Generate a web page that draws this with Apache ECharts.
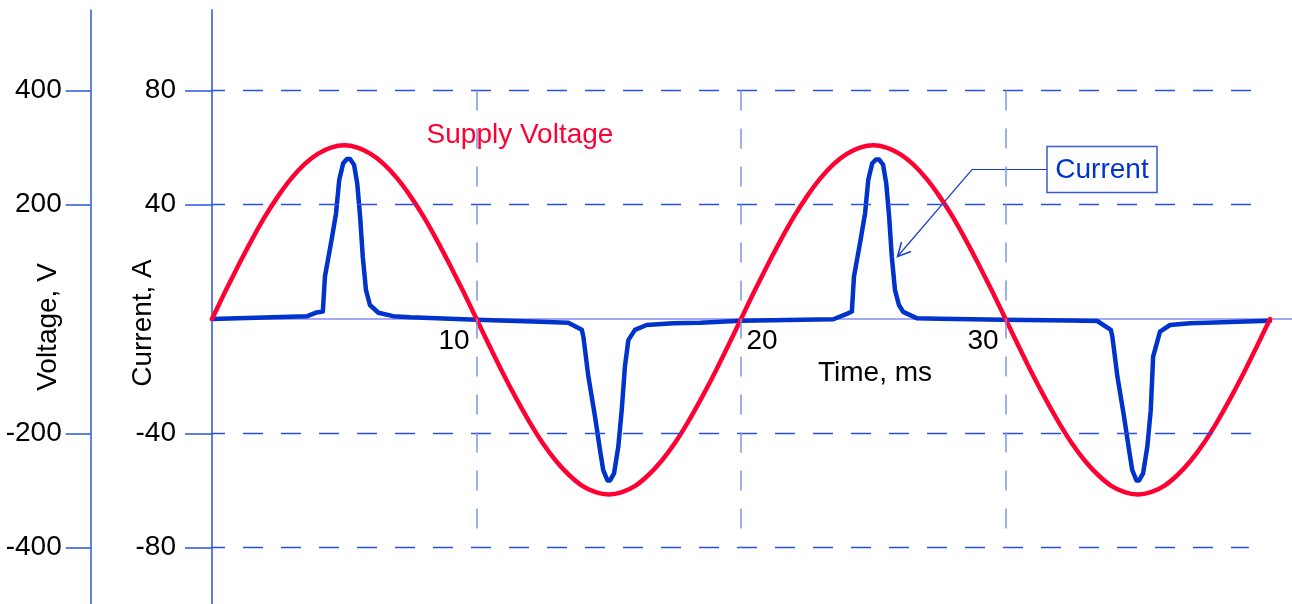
<!DOCTYPE html>
<html><head><meta charset="utf-8">
<script src="https://cdn.jsdelivr.net/npm/echarts@6/dist/echarts.min.js"></script>
<style>html,body{margin:0;padding:0;background:#fff}#c{width:1292px;height:604px}</style>
</head><body><div id="c"></div>
<script>
// ---- data ----
const voltageTimeMs = [
  0,0.5,1,1.5,2,2.5,3,3.5,4,4.5,5,5.5,6,6.5,7,7.5,8,8.5,9,9.5,
  10,10.5,11,11.5,12,12.5,13,13.5,14,14.5,15,15.5,16,16.5,17,17.5,18,18.5,19,19.5,
  20,20.5,21,21.5,22,22.5,23,23.5,24,24.5,25,25.5,26,26.5,27,27.5,28,28.5,29,29.5,
  30,30.5,31,31.5,32,32.5,33,33.5,34,34.5,35,35.5,36,36.5,37,37.5,38,38.5,39,39.5,40
];
const voltageV = [
  0,48,94,138,179,215,246,271,289,300,304,300,289,271,246,215,179,138,94,48,
  0,-48,-95,-139,-180,-217,-248,-273,-292,-303,-307,-303,-292,-273,-248,-217,-180,-139,-95,-48,
  0,48,94,138,179,215,246,271,289,300,304,300,289,271,246,215,179,138,94,48,
  0,-48,-95,-139,-180,-217,-248,-273,-292,-303,-307,-303,-292,-273,-248,-217,-180,-139,-95,-48,0
];
const currentTimeMs = [
  0,3.6,3.96,4.19,4.27,4.52,4.69,4.81,4.96,5.1,5.22,5.37,5.49,5.6,5.7,5.82,5.97,6.29,6.85,7.5,
  10,12.4,13.47,13.98,14.04,14.23,14.48,14.67,14.79,14.95,15.05,15.2,15.36,15.49,15.61,15.74,15.99,16.43,17.44,18.45,
  20,23.49,24.0,24.19,24.27,24.52,24.69,24.81,24.96,25.1,25.22,25.37,25.49,25.6,25.7,25.82,25.97,26.13,26.64,27.5,
  29.94,32.4,33.47,33.98,34.04,34.23,34.48,34.67,34.79,34.95,35.05,35.2,35.36,35.49,35.58,35.84,36.22,36.98,40
];
const currentA = [
  0,1.0,2.3,2.6,14.8,27.7,37,48.7,54.5,56,56,54,47.5,35.8,21.8,10.2,4.9,2.2,1.0,0.6,
  -0.3,-1.0,-1.3,-3.8,-6.2,-20.2,-34.2,-45.9,-52.9,-56.5,-56.5,-54,-44.7,-31.9,-16.7,-7.4,-3.8,-2.1,-1.5,-1.3,
  -0.6,-0.1,1.8,2.6,14.8,27.7,37,48.7,54.5,55.8,55.8,54,47.5,35.8,21.8,10.2,4.9,2.5,0.3,0.1,
  -0.3,-0.5,-0.7,-3.8,-6.2,-20.2,-34.2,-45.9,-52.9,-56.5,-56.5,-54,-44.7,-31.9,-13.2,-4.4,-2.1,-1.5,-0.6
];
const currentTicks = [-80, -40, 40, 80];
const voltageTicks = [-400, -200, 200, 400];
const timeTicks = [10, 20, 30];
const timeGridLines = [10, 20, 30];
const currentGridLines = [80, 40, -40, -80];
const currentGridEndMs = [39.9, 39.9, 39.9, 39.2];

const FONT = '"Liberation Sans", Arial, sans-serif';
const chart = echarts.init(document.getElementById('c'), null, {renderer: 'canvas'});

const hLines = currentGridLines.map((v, i) => [{coord: [0, v]}, {coord: [currentGridEndMs[i], v]}]);
const vLines = timeGridLines.map(t => [{coord: [t, 80]}, {coord: [t, -80]}]);

chart.setOption({
  animation: false,
  backgroundColor: '#ffffff',
  grid: {left: 212, right: 0, top: 10, bottom: 0, containLabel: false, outerBoundsMode: 'none'},
  xAxis: {
    type: 'value', min: 0, max: 40.83, position: 'bottom', offset: -285,
    axisLine: {onZero: false, lineStyle: {color: '#8a8cf0', width: 1.5}},
    axisTick: {show: false},
    splitLine: {show: false},
    axisLabel: {
      customValues: timeTicks, margin: 8, color: '#000', fontFamily: FONT, fontSize: 28,
      formatter: v => (v === 20 ? '{r|' + v + '}' : '{l|' + v + '}'),
      rich: {
        l: {fontSize: 28, fontFamily: FONT, color: '#000', lineHeight: 28, padding: [0, 45, 0, 0]},
        r: {fontSize: 28, fontFamily: FONT, color: '#000', lineHeight: 28, padding: [0, 0, 0, 42]}
      }
    }
  },
  yAxis: [
    {
      type: 'value', min: -99.75, max: 108.15, position: 'left', offset: 0,
      axisLine: {show: true, onZero: false, lineStyle: {color: '#5a7ee6', width: 2}},
      axisTick: {show: true, customValues: currentTicks, length: 27, lineStyle: {color: '#2a55e0', width: 1.5}},
      axisLabel: {customValues: currentTicks, margin: 36, color: '#000', fontFamily: FONT, fontSize: 28},
      splitLine: {show: false}
    },
    {
      type: 'value', min: -498.75, max: 540.75, position: 'left', offset: 121.3,
      axisLine: {show: true, onZero: false, lineStyle: {color: '#2a5ae6', width: 1.5}},
      axisTick: {show: true, customValues: voltageTicks, length: 25, lineStyle: {color: '#2a55e0', width: 1.5}},
      axisLabel: {customValues: voltageTicks, margin: 29, color: '#000', fontFamily: FONT, fontSize: 28},
      splitLine: {show: false}
    }
  ],
  series: [
    {
      name: 'Current', type: 'line', yAxisIndex: 0, showSymbol: false, symbol: 'none',
      data: currentTimeMs.map((t, i) => [t, currentA[i]]),
      lineStyle: {color: '#0033cc', width: 4.5, join: 'round', cap: 'round'},
      z: 3,
      markLine: {
        silent: true, symbol: 'none', label: {show: false}, animation: false,
        data: [
          ...hLines.map(d => [Object.assign({}, d[0], {lineStyle: {color: '#2a52de', width: 1.3, type: [20, 18], dashOffset: 7}}), d[1]]),
          ...vLines.map(d => [Object.assign({}, d[0], {lineStyle: {color: '#7b95e8', width: 1.5, type: [20, 18]}}), d[1]])
        ]
      }
    },
    {
      name: 'Supply Voltage', type: 'line', yAxisIndex: 1, showSymbol: false, symbol: 'none', smooth: 0.3,
      data: voltageTimeMs.map((t, i) => [t, voltageV[i]]),
      lineStyle: {color: '#ff0033', width: 4.5, join: 'round', cap: 'round'},
      z: 4
    }
  ],
  graphic: [
    {type: 'text', z: 10, style: {text: 'Voltage, V', x: 0, y: 0, align: 'center', verticalAlign: 'middle', font: '28px ' + FONT, fill: '#000'}, x: 48, y: 327, rotation: Math.PI / 2},
    {type: 'text', z: 10, style: {text: 'Current, A', x: 0, y: 0, align: 'center', verticalAlign: 'middle', font: '28px ' + FONT, fill: '#000'}, x: 143, y: 323, rotation: Math.PI / 2},
    {type: 'text', z: 10, style: {text: 'Time, ms', x: 875, y: 373, align: 'center', verticalAlign: 'middle', font: '28px ' + FONT, fill: '#000'}},
    {type: 'text', z: 10, style: {text: 'Supply Voltage', x: 520, y: 135, align: 'center', verticalAlign: 'middle', font: '28px ' + FONT, fill: '#ff0033'}},
    {type: 'polyline', z: 1, shape: {points: [[1047, 169.5], [972, 169.5], [897.5, 256.5]]}, style: {stroke: '#1a3ccc', lineWidth: 1.2, fill: null}},
    {type: 'polyline', z: 1, shape: {points: [[911, 251.5], [897.5, 256.5], [901.5, 242]]}, style: {stroke: '#1a3ccc', lineWidth: 1.5, fill: null}},
    {type: 'rect', z: 10, shape: {x: 1047, y: 146.5, width: 110, height: 46}, style: {stroke: '#3a5ad0', lineWidth: 1.5, fill: '#fff'}},
    {type: 'text', z: 11, style: {text: 'Current', x: 1102, y: 170, align: 'center', verticalAlign: 'middle', font: '28px ' + FONT, fill: '#0033cc'}}
  ]
});
</script>
</body></html>
